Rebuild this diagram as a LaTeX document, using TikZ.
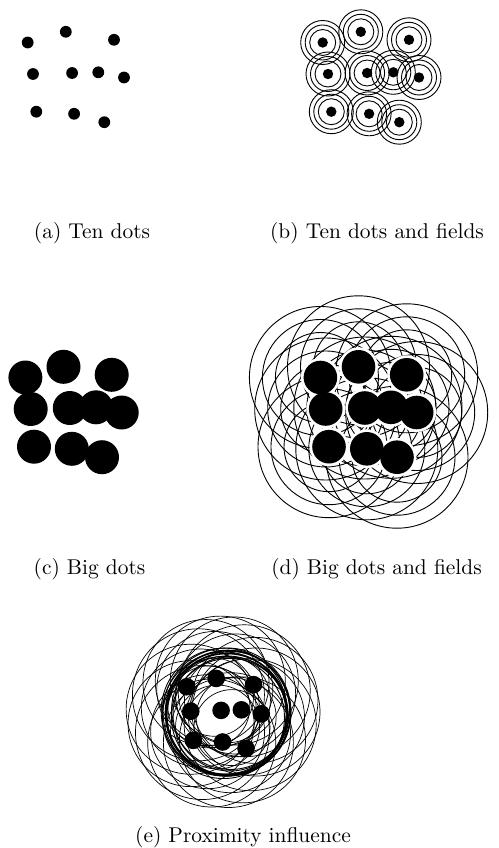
\documentclass[tikz,border=0pt]{standalone}
\usepackage{graphicx}
\usetikzlibrary{calc}
\begin{document}
\begin{tikzpicture}[x=1pt,y=-1pt,
  field/.style={draw=black,line width=0.9pt},
  thinfield/.style={draw=black,line width=0.7pt},
  boldfield/.style={draw=black,line width=1.6pt},
  ink/.style={fill=black},
  halo/.style={fill=white},
  caption/.style={anchor=base,inner sep=0pt}]
\path[use as bounding box] (0,0) rectangle (498,848);
\def\dotlist{27.7/42.5,65.8/31.8,114/39.8,33/74,72.1/73,98.3/72.3,124/77.5,36.3/111.7,74.1/113.8,104.3/122.2}
% (a) Ten dots
\foreach \px/\py in \dotlist { \fill[ink] (\px,\py) circle[radius=5.9]; }
% (b) Ten dots and fields
\begin{scope}[shift={(295,0)}]
  \foreach \px/\py in \dotlist {
    \draw[field] (\px,\py) circle[radius=13] circle[radius=17.5] circle[radius=22]; }
  \foreach \px/\py in \dotlist { \fill[ink] (\px,\py) circle[radius=5.2]; }
\end{scope}
% (c) Big dots
\begin{scope}[shift={(-2.3,335)}]
  \foreach \px/\py in \dotlist { \fill[ink] (\px,\py) circle[radius=17]; }
\end{scope}
% (d) Big dots and fields
\begin{scope}[shift={(292.7,335)}]
  \foreach \px/\py in \dotlist {
    \draw[field] (\px,\py) circle[radius=45] circle[radius=58] circle[radius=71]; }
  \foreach \px/\py in \dotlist { \fill[halo] (\px,\py) circle[radius=19.5]; }
  \foreach \px/\py in \dotlist { \fill[ink] (\px,\py) circle[radius=16.8]; }
\end{scope}
% (e) Proximity influence
\coordinate (ec) at (223,712);
\coordinate (er) at (227,714);
% outer lobes
\foreach \a/\d/\r in {0/33/64,25/30/66,55/34/63,80/31/65,110/33/64,135/29/67,160/34/63,185/32/65,215/30/66,240/34/63,265/31/65,290/33/64,315/30/66,340/34/63} {
  \draw[thinfield] ($(ec)+(\a:\d)$) circle[radius=\r]; }
\foreach \a/\d/\r in {12/24/58,70/22/60,128/25/57,190/23/59,250/24/58,305/22/60} {
  \draw[thinfield] ($(ec)+(\a:\d)$) circle[radius=\r]; }
% interior crossing lines
\foreach \a/\d/\r in {20/14/40,110/16/42,200/15/41,290/13/43,60/18/38,240/17/39} {
  \draw[thinfield] ($(ec)+(\a:\d)$) circle[radius=\r]; }
% dense ring
\foreach \a/\d/\r in {0/3/57,45/4/58.5,90/2/60,135/5/61,180/3/62,225/4/63,270/2/64,315/5/59} {
  \draw[field] ($(er)+(\a:\d)$) circle[radius=\r]; }
\draw[boldfield] (er) circle[radius=60.5];
\draw[boldfield] ($(er)+(1,-1)$) circle[radius=62.5];
\foreach \px/\py in \dotlist { \fill[ink] ({165.2+0.775*\px},{653.8+0.775*\py}) circle[radius=8.8]; }
% captions
\node[caption] (capa) at (92,238) {\scalebox{2.14}{(a) Ten dots}};
\node[caption] (capb) at (377,238) {\scalebox{2.14}{(b) Ten dots and fields}};
\node[caption] (capc) at (89.5,574) {\scalebox{2.14}{(c) Big dots}};
\node[caption] (capd) at (376.5,574) {\scalebox{2.14}{(d) Big dots and fields}};
\node[caption] (cape) at (243,842) {\scalebox{2.14}{(e) Proximity influence}};
\end{tikzpicture}
\end{document}
